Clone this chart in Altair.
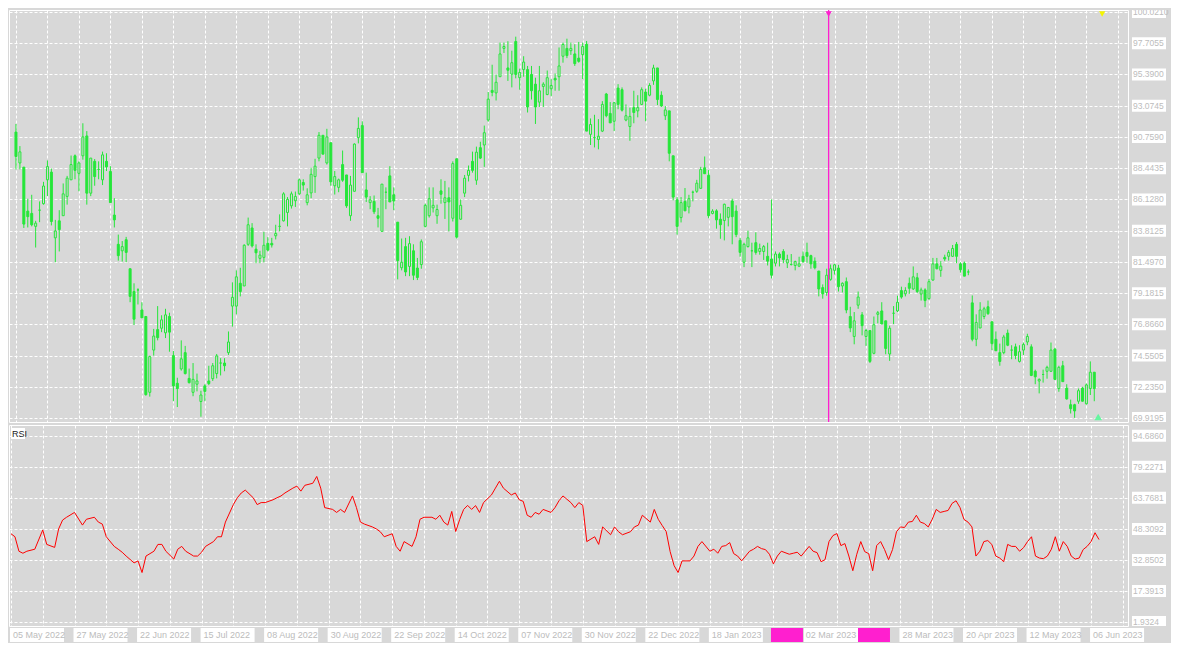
import altair as alt
import pandas as pd
import numpy as np

# ---------------- data ----------------
opens = [91.12,88.83,88.52,85.26,85.09,84.13,85.33,85.81,87.58,88.15,83.28,84.54,84.92,86.35,87.58,89.36,88.06,89.36,90.83,86.59,
88.95,88.35,87.58,88.95,88.20,84.97,82.80,82.32,83.14,80.99,79.30,79.42,77.93,77.45,71.83,74.96,76.48,76.58,76.24,77.45,
74.55,72.50,73.56,74.77,72.86,71.83,72.43,71.15,72.31,72.67,72.84,73.22,74.00,74.00,74.77,78.22,78.22,79.91,79.71,82.80,
84.01,82.44,81.76,81.83,82.87,82.87,83.43,84.13,84.54,85.16,85.65,86.03,86.54,87.38,85.89,86.61,87.82,89.19,90.88,88.83,
90.33,87.14,87.02,88.71,87.94,84.92,86.73,90.71,91.60,86.83,85.89,85.98,84.92,83.76,86.66,87.87,86.47,84.44,81.06,82.63,
81.16,82.32,81.04,81.30,84.13,84.92,85.50,84.92,86.76,85.89,86.25,84.73,89.14,84.66,86.59,87.91,88.95,87.55,89.96,90.16,
92.01,94.21,94.02,95.22,97.32,95.87,95.41,97.83,95.15,95.75,95.75,95.39,94.67,93.34,94.50,93.90,94.33,95.10,95.22,96.74,
97.32,97.15,96.91,96.60,96.86,97.63,90.95,90.71,90.57,91.19,93.94,92.50,91.92,94.38,94.26,92.01,91.53,92.93,92.69,93.17,
94.09,93.85,94.91,95.87,93.85,92.33,92.69,89.36,86.10,84.78,85.98,85.57,86.66,86.73,86.95,88.47,87.91,85.09,85.28,84.66,
84.56,84.80,86.01,85.26,83.09,81.47,82.63,82.32,82.92,82.27,82.27,81.91,81.71,81.40,82.08,82.27,81.42,81.30,81.23,81.18,
81.91,82.20,81.96,81.55,80.82,79.59,79.23,80.20,80.87,81.04,79.71,80.03,77.45,75.97,78.29,77.57,75.97,76.41,74.72,77.61,
77.86,77.13,74.67,77.69,77.86,79.37,79.13,79.91,79.49,80.32,79.11,79.42,78.77,80.15,81.35,80.87,81.83,81.91,81.91,82.80,
81.35,81.40,80.75,78.46,75.76,76.60,77.45,78.17,77.06,75.76,74.77,74.77,76.22,74.96,75.20,74.12,74.96,75.56,75.20,73.39,
72.67,73.15,73.39,73.39,75.03,72.11,73.80,72.14,70.91,70.91,71.17,72.14,70.98,72.11,73.32]
highs = [91.72,90.08,88.52,86.18,86.47,84.54,85.98,87.43,89.02,88.42,84.61,85.33,87.31,87.87,89.38,89.46,88.95,91.77,91.19,89.19,
89.12,88.95,89.67,89.55,88.59,86.22,83.52,83.04,83.35,80.99,79.91,79.54,78.51,77.45,74.55,76.53,78.22,77.54,78.02,77.73,
74.89,72.91,75.68,75.27,73.59,74.00,73.22,71.95,72.43,73.80,74.00,74.67,74.36,74.36,76.34,79.98,80.87,81.06,82.80,84.78,
84.37,82.80,82.32,83.72,83.33,83.28,84.25,85.02,86.66,86.30,86.71,86.71,87.67,87.62,86.95,88.47,89.14,91.12,90.88,91.36,
90.33,88.23,87.67,89.75,87.94,87.87,90.28,92.21,91.92,88.11,86.37,86.42,85.50,87.26,87.02,88.59,87.02,84.44,83.23,83.28,
83.40,82.80,81.79,83.16,85.81,87.02,87.02,85.74,87.62,87.50,87.02,88.95,89.14,86.13,87.94,88.64,89.67,90.04,90.40,91.60,
94.09,96.11,95.39,97.75,97.75,97.85,97.15,98.19,95.82,96.74,96.02,96.02,95.15,96.02,94.81,95.68,95.03,95.46,97.39,97.75,
98.04,97.75,97.63,97.80,97.75,97.87,92.13,92.40,92.08,93.41,94.02,93.34,93.36,94.67,94.43,93.17,92.93,94.18,93.85,94.43,
94.33,94.74,96.11,95.87,94.14,93.05,92.69,89.36,86.30,86.30,86.97,86.47,86.78,87.58,88.54,89.31,88.30,85.40,85.40,85.09,
85.81,85.57,86.18,85.69,83.28,82.92,83.81,82.92,83.69,82.85,82.75,82.92,86.13,82.27,82.20,82.44,82.03,82.08,81.59,81.88,
82.27,82.92,82.03,81.83,80.82,79.83,80.99,81.30,81.35,81.28,79.98,80.34,78.17,77.78,79.30,77.78,76.53,76.41,77.45,77.86,
78.51,77.13,76.77,78.22,78.99,79.66,79.62,80.34,81.16,80.68,79.59,79.54,80.22,81.79,81.79,81.55,82.03,82.37,82.75,82.97,
81.47,81.52,80.94,79.01,77.61,78.51,78.17,78.63,77.06,76.34,75.44,76.09,76.48,75.32,75.44,75.32,75.52,76.17,75.39,73.51,
72.86,73.51,73.80,75.52,75.13,73.80,74.16,72.43,71.29,70.98,72.11,72.24,72.48,74.12,73.32]
lows = [88.35,88.35,84.01,84.05,84.13,82.56,84.44,85.74,86.37,84.20,81.47,82.27,84.92,85.74,87.58,87.62,86.73,89.07,85.74,86.37,
87.14,87.62,87.19,88.23,85.89,84.05,81.59,81.52,81.47,78.51,76.82,78.34,77.35,71.58,71.51,74.55,75.68,76.29,75.85,74.84,
71.17,70.74,73.44,73.15,72.48,71.54,71.90,70.02,71.17,72.36,72.67,72.86,73.08,73.39,74.60,76.70,77.61,78.94,79.71,82.68,
82.56,81.40,81.40,81.47,82.27,82.56,83.16,83.76,84.49,84.13,85.45,85.57,86.47,86.78,85.69,86.22,86.61,88.95,89.48,88.71,
87.14,86.49,86.66,87.43,85.50,84.54,86.73,90.28,88.11,85.94,85.40,85.04,84.05,83.76,85.40,85.94,85.33,80.20,80.87,80.44,
80.44,80.15,80.15,80.99,84.05,84.78,85.16,84.32,85.81,84.68,83.76,84.49,83.23,84.61,86.30,87.46,88.11,87.21,89.12,88.54,
91.89,93.77,93.46,95.22,96.98,94.91,94.43,95.10,94.26,95.22,92.57,93.53,91.72,92.98,92.98,93.85,93.77,94.18,94.18,96.26,
96.60,96.84,96.02,96.26,95.05,91.19,90.16,89.98,89.84,91.12,92.21,91.80,91.19,92.81,92.64,91.92,90.47,91.77,92.21,93.12,
91.92,93.77,94.62,93.12,92.98,92.01,88.95,86.06,83.52,84.42,85.28,85.09,85.98,86.61,86.90,88.03,84.73,85.02,83.96,83.21,
83.09,84.13,82.80,83.33,81.88,81.11,82.56,81.11,82.03,82.03,81.64,81.23,80.27,81.16,81.16,81.40,81.04,81.23,80.87,81.11,
81.42,81.42,80.99,80.94,78.94,78.77,78.99,80.10,80.56,79.30,79.23,77.69,76.29,75.39,78.02,76.05,75.27,74.00,74.65,76.94,
76.89,74.65,74.16,76.89,77.78,78.77,78.94,79.13,79.42,79.18,78.63,78.14,78.70,80.10,80.94,80.39,81.55,81.59,81.88,81.40,
80.70,80.44,80.51,75.61,75.25,76.58,77.25,77.57,74.96,74.91,73.80,74.65,75.25,74.28,74.28,74.04,74.60,75.32,73.03,72.43,
71.75,72.55,72.84,73.34,72.74,71.87,72.60,71.29,70.26,69.94,70.98,71.15,70.93,71.63,71.17]
closes = [89.31,89.65,84.30,84.85,84.25,84.37,85.33,87.12,88.56,84.49,83.79,83.89,86.54,87.70,88.71,88.28,88.83,90.76,86.59,89.19,
87.82,88.35,89.43,88.54,85.89,84.61,81.96,82.63,82.20,78.94,77.25,79.42,77.35,71.66,74.48,76.00,75.88,77.20,77.57,76.29,
72.31,72.11,74.31,73.22,72.55,72.79,72.67,71.63,71.90,72.48,73.80,74.53,74.00,73.80,75.56,78.87,80.39,79.30,82.73,84.25,
82.68,82.17,82.00,82.73,82.37,82.75,83.60,84.13,86.54,86.13,86.54,86.35,87.58,87.19,86.47,87.99,88.59,90.88,89.48,90.76,
87.43,87.82,87.58,87.55,85.65,87.19,90.23,91.39,88.11,86.30,86.10,85.21,84.73,87.26,86.66,85.94,86.01,81.59,81.47,80.75,
82.85,80.51,80.34,82.99,85.69,86.18,85.69,85.38,86.51,86.25,85.94,88.78,83.33,85.69,87.70,88.28,88.28,89.63,89.19,91.07,
93.56,94.06,94.81,96.91,97.46,95.70,96.26,95.39,95.54,96.31,92.98,94.18,92.98,94.18,94.67,95.15,94.57,94.98,96.02,97.61,
96.79,97.32,96.19,96.36,97.46,91.19,91.68,90.71,90.81,93.17,92.33,91.80,93.29,93.17,92.74,92.33,92.28,92.57,92.93,94.26,
93.41,94.57,95.87,93.53,93.05,92.76,89.55,86.30,84.13,85.89,85.28,86.18,86.66,87.33,88.35,88.03,84.92,85.26,84.61,84.25,
85.77,85.53,84.85,83.52,82.20,82.80,83.28,82.32,82.20,82.49,82.63,81.55,80.51,82.08,81.79,81.67,81.67,81.30,81.52,81.35,
81.52,81.91,81.35,81.06,79.49,79.13,80.51,80.99,81.28,79.66,79.91,77.93,76.60,77.13,78.89,76.77,76.41,74.12,76.84,77.73,
76.89,75.08,76.58,77.69,78.51,78.89,79.37,79.54,80.39,79.30,79.42,78.63,80.03,81.35,80.99,81.18,81.71,82.20,82.49,81.91,
80.92,80.44,80.75,75.76,77.01,77.93,78.02,77.66,75.44,74.91,74.12,75.93,75.32,74.96,74.55,74.84,75.37,75.97,73.08,72.98,
72.79,73.15,73.68,74.96,72.79,73.68,72.62,71.34,70.62,70.45,71.95,71.17,72.38,73.32,72.11]

rsi_idx = [0,1,2,3,4,6,8,9,11,12,13,14,16,18,19,21,22,23,24,26,27,28,29,31,32,33,34,36,37,38,39,41,42,43,44,46,47,48,49,
51,52,53,54,56,57,58,59,61,62,63,64,66,67,68,69,71,72,73,74,76,77,78,79,81,82,83,84,86,87,88,89,91,92,93,94,96,97,98,99,
101,102,103,104,106,107,108,109,110,111,112,113,114,115,116,117,118,119,121,122,123,124,126,127,128,129,130,131,132,133,
134,136,137,138,139,141,142,143,144,145,147,148,149,151,152,153,154,156,157,158,159,161,162,163,164,165,166,167,168,169,
171,172,173,174,176,177,178,179,180,181,182,183,184,186,187,188,189,190,191,192,193,194,196,197,198,199,201,202,203,204,
205,206,207,208,209,210,211,212,213,214,215,216,217,218,219,220,221,222,223,224,225,226,227,228,229,230,231,232,233,234,
235,236,237,238,239,240,241,242,243,244,245,246,247,248,249,250,251,252,253,254,255,256,257,258,259,260,261,262,263,264,
265,266,267,268,269,270,271,272,273,274]
rsi_vals = [45.9,44.4,37.2,36.2,37.2,38.2,47.8,40.6,39.1,48.3,52.7,54.1,56.5,50.2,53.1,54.1,51.7,50.7,44.4,39.6,38.2,36.7,
34.8,31.4,32.4,26.6,34.8,37.2,40.6,40.6,37.2,33.3,38.2,39.6,37.2,34.8,34.8,36.7,39.6,
42.0,44.4,44.4,51.7,60.4,63.8,66.2,67.6,63.8,60.4,61.4,61.4,62.8,63.8,64.7,66.2,68.6,69.6,67.1,70.0,71.0,74.4,68.6,58.9,
58.0,56.5,58.0,56.5,64.7,58.9,51.7,50.7,49.3,48.3,46.9,44.4,45.9,39.6,37.2,42.0,
39.6,44.4,53.1,54.1,54.1,53.1,55.1,51.7,50.2,57.0,47.0,53.0,58.0,60.0,58.0,59.9,56.5,61.4,65.2,68.6,72.0,68.6,65.2,66.2,
62.8,62.0,55.1,54.1,56.5,55.6,
58.0,56.5,58.9,62.3,64.7,61.4,58.9,61.4,60.0,42.0,44.4,40.6,49.3,45.4,49.3,46.9,45.4,46.9,49.3,50.2,55.1,51.7,58.0,53.1,
50.0,47.0,37.0,30.0,26.6,32.4,
32.4,34.8,39.6,42.0,37.2,38.2,36.2,39.6,40.0,41.5,36.0,34.8,32.4,37.2,38.2,39.6,38.5,38.0,35.7,30.9,34.8,37.2,35.7,36.2,
36.7,34.8,39.6,37.2,36.5,32.0,
33.0,42.0,45.0,46.0,40.0,41.0,34.8,27.5,35.7,42.0,37.0,36.0,27.5,40.0,42.0,38.0,33.0,38.0,46.9,49.3,49.0,51.7,52.0,55.1,
51.7,51.0,49.3,53.1,58.0,56.5,
57.0,57.5,61.0,62.3,58.9,53.0,51.7,49.3,34.8,37.2,42.0,42.5,40.6,34.8,33.8,32.0,40.6,39.6,39.6,37.2,39.0,42.0,44.4,34.8,
33.8,33.5,34.8,38.2,44.4,37.2,
42.0,39.6,34.8,33.3,33.8,38.0,39.6,42.0,46.4,43.0]

price_ticks = [69.9195,72.2350,74.5505,76.8660,79.1815,81.4970,83.8125,86.1280,88.4435,90.7590,93.0745,95.3900,97.7055,100.0210]
price_labels = ["69.9195","72.2350","74.5505","76.8660","79.1815","81.4970","83.8125","86.1280","88.4435","90.7590","93.0745","95.3900","97.7055","100.0210"]
rsi_ticks = [1.9324,17.3913,32.8502,48.3092,63.7681,79.2271,94.6860]
rsi_labels = ["1.9324","17.3913","32.8502","48.3092","63.7681","79.2271","94.6860"]

date_idx = [0,16,32,48,64,80,96,112,128,144,160,176,224,240,256,272]
date_labels = ["05 May 2022","27 May 2022","22 Jun 2022","15 Jul 2022","08 Aug 2022","30 Aug 2022","22 Sep 2022",
               "14 Oct 2022","07 Nov 2022","30 Nov 2022","22 Dec 2022","18 Jan 2023","28 Mar 2023","20 Apr 2023",
               "12 May 2023","06 Jun 2023"]
vline_idx = [206.5]
vline_label = ["02 Mar 2023"]

# ---------------- style ----------------
BG = "#d8d8d8"
GREEN = "#26e63a"
MAGENTA = "#ff1fcf"
RED = "#ff0000"
LBL = "#bcbcbc"
FONT = "Liberation Sans"
W, H1, H2, SW = 1119, 412, 201, 42

cdf = pd.DataFrame({"i": list(range(len(closes))), "open": opens, "high": highs, "low": lows, "close": closes})
cdf["top"] = cdf[["open", "close"]].max(axis=1)
cdf["bot"] = cdf[["open", "close"]].min(axis=1)
cdf["kind"] = np.where(cdf["close"] < cdf["open"], "bear", "bull")

xsc = alt.Scale(domain=[-0.5, 281.3], nice=False, zero=False)
xaxis = alt.Axis(values=list(range(0, 281, 8)), grid=True, labels=False, ticks=False, domain=False, title=None)
ysc1 = alt.Scale(domain=[69.63, 100.166], nice=False, zero=False)
yaxis1 = alt.Axis(values=price_ticks, grid=True, labels=False, ticks=False, domain=False, title=None)
ysc2 = alt.Scale(domain=[0, 100], nice=False, zero=False)
yaxis2 = alt.Axis(values=rsi_ticks, grid=True, labels=False, ticks=False, domain=False, title=None)

X = alt.X("i:Q", scale=xsc, axis=xaxis)

# ---------------- main panel ----------------
wick = alt.Chart(cdf).mark_rule(color=GREEN, strokeWidth=1).encode(
    x=X, y=alt.Y("low:Q", scale=ysc1, axis=yaxis1), y2="high:Q")
body = alt.Chart(cdf).mark_bar(width=2, stroke=GREEN, strokeWidth=1).encode(
    x=X, y=alt.Y("top:Q", scale=ysc1, axis=yaxis1), y2="bot:Q",
    fill=alt.Fill("kind:N", scale=alt.Scale(domain=["bull", "bear"], range=[BG, GREEN]), legend=None))
vdf = pd.DataFrame({"i": vline_idx, "t": vline_label})
vline = alt.Chart(vdf).mark_rule(color=MAGENTA, strokeWidth=1.3).encode(x=X)
vtri = alt.Chart(vdf).mark_point(shape="triangle-down", filled=True, size=40, color=MAGENTA, opacity=1).encode(
    x=X, y=alt.value(4))
ydf = pd.DataFrame({"i": [276]})
ytri = alt.Chart(ydf).mark_point(shape="triangle-down", filled=True, size=40, color="#f5f500", opacity=1).encode(
    x=X, y=alt.value(4))
gdf = pd.DataFrame({"i": [275]})
gtri = alt.Chart(gdf).mark_point(shape="triangle-up", filled=True, size=60, color="#66f5a0", opacity=1).encode(
    x=X, y=alt.value(H1 - 5))
main = alt.layer(wick, body, vline, vtri, ytri, gtri).properties(width=W, height=H1)

pdf = pd.DataFrame({"v": price_ticks, "t": price_labels})
pbox = alt.Chart(pdf).mark_rect(color="white", yOffset=-6, y2Offset=6, clip=True).encode(
    x=alt.value(4), x2=alt.value(38), y=alt.Y("v:Q", scale=ysc1, axis=None), y2="v:Q")
ptxt = alt.Chart(pdf).mark_text(align="left", baseline="middle", fontSize=8.5, font=FONT, color=LBL, clip=True).encode(
    x=alt.value(5), y=alt.Y("v:Q", scale=ysc1, axis=None), text="t:N")
strip1 = alt.layer(pbox, ptxt).properties(width=SW, height=H1, view=alt.ViewBackground(stroke="transparent"))

# ---------------- RSI panel ----------------
rdf = pd.DataFrame({"i": rsi_idx, "v": rsi_vals})
rline = alt.Chart(rdf).mark_line(color=RED, strokeWidth=1).encode(
    x=X, y=alt.Y("v:Q", scale=ysc2, axis=yaxis2))
tdf = pd.DataFrame({"t": ["RSI"]})
rbox = alt.Chart(tdf).mark_rect(color="white").encode(
    x=alt.value(2), x2=alt.value(16), y=alt.value(3), y2=alt.value(14))
rtxt = alt.Chart(tdf).mark_text(align="left", baseline="middle", fontSize=9, font=FONT, color="#1a1a1a").encode(
    x=alt.value(3), y=alt.value(9), text="t:N")
ddf = pd.DataFrame({"i": date_idx, "t": date_labels})
dbox = alt.Chart(ddf).mark_rect(color="white", xOffset=-1, x2Offset=53).encode(
    x=X, x2="i:Q", y=alt.value(H2 + 2), y2=alt.value(H2 + 16))
dtxt = alt.Chart(ddf).mark_text(align="left", baseline="middle", fontSize=9, font=FONT, color=LBL, dx=2).encode(
    x=X, y=alt.value(H2 + 9), text="t:N")
mbox1 = alt.Chart(vdf).mark_rect(color=MAGENTA, xOffset=-60, x2Offset=-28).encode(
    x=X, x2="i:Q", y=alt.value(H2 + 2), y2=alt.value(H2 + 16))
mbox2 = alt.Chart(vdf).mark_rect(color=MAGENTA, xOffset=27, x2Offset=59).encode(
    x=X, x2="i:Q", y=alt.value(H2 + 2), y2=alt.value(H2 + 16))
mboxw = alt.Chart(vdf).mark_rect(color="white", xOffset=-27, x2Offset=27).encode(
    x=X, x2="i:Q", y=alt.value(H2 + 2), y2=alt.value(H2 + 16))
mtxt = alt.Chart(vdf).mark_text(align="center", baseline="middle", fontSize=9, font=FONT, color=LBL).encode(
    x=X, y=alt.value(H2 + 9), text="t:N")
rsi = alt.layer(rline, rbox, rtxt, dbox, dtxt, mbox1, mbox2, mboxw, mtxt).properties(width=W, height=H2)

qdf = pd.DataFrame({"v": rsi_ticks, "t": rsi_labels})
qbox = alt.Chart(qdf).mark_rect(color="white", yOffset=-6, y2Offset=6, clip=True).encode(
    x=alt.value(4), x2=alt.value(38), y=alt.Y("v:Q", scale=ysc2, axis=None), y2="v:Q")
qtxt = alt.Chart(qdf).mark_text(align="left", baseline="middle", fontSize=8.5, font=FONT, color=LBL, clip=True).encode(
    x=alt.value(5), y=alt.Y("v:Q", scale=ysc2, axis=None), text="t:N")
strip2 = alt.layer(qbox, qtxt).properties(width=SW, height=H2, view=alt.ViewBackground(stroke="transparent"))

chart = alt.concat(main, strip1, rsi, strip2, columns=2, spacing={"row": 3, "column": 0},
                   bounds="flush", align="each").properties(
    background=BG, padding=0
).configure_axis(
    gridColor="white", gridDash=[3, 2], gridOpacity=1, gridWidth=1
).configure_view(stroke="white", strokeWidth=1)

chart.save("out.html", embed_options={"renderer": "svg", "actions": False})
